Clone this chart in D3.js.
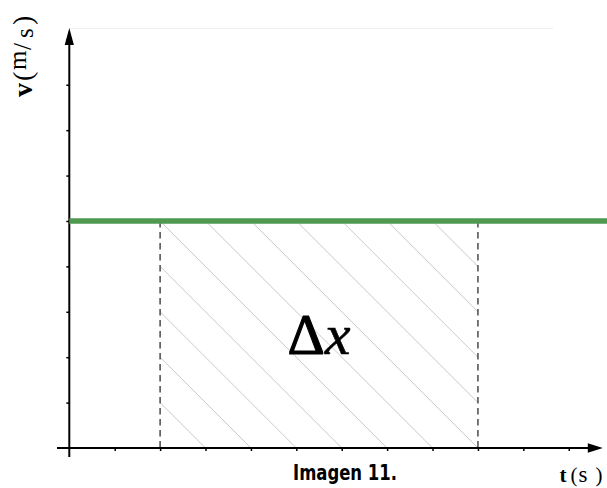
<!DOCTYPE html>
<html>
<head>
<meta charset="utf-8">
<script src="https://cdn.jsdelivr.net/npm/d3@7"></script>
<style>
  html, body { margin: 0; padding: 0; background: #fff; }
  svg { display: block; }
</style>
</head>
<body>
<script>
// Uniform motion: constant velocity, displacement = shaded area under v(t)
const tTicks = [1, 2, 3, 4, 5, 6, 7, 8, 9, 10, 11];
const vTicks = [1, 2, 3, 4, 5, 6, 7, 8, 9];
const velocity = [5];            // constant speed (m/s)
const interval = [2, 9];         // t1, t2 bounding the displacement area
const tMax = 11.75;
const vMax = 9.25;

const W = 607, H = 488;
const serif = "'Liberation Serif', 'DejaVu Serif', serif";
const svg = d3.select("body").append("svg").attr("width", W).attr("height", H);

const x = d3.scaleLinear().domain([0, tMax]).range([69.3, 602.8]);
const y = d3.scaleLinear().domain([0, vMax]).range([448, 28]);

// faint top guide
svg.append("line")
  .attr("x1", x(0)).attr("x2", 553).attr("y1", 28.5).attr("y2", 28.5)
  .attr("stroke", "#eeeeee").attr("stroke-width", 1);

// hatched area between t1 and t2
const clip = svg.append("defs").append("clipPath").attr("id", "area-clip");
clip.append("rect")
  .attr("x", x(interval[0])).attr("y", y(velocity[0]))
  .attr("width", x(interval[1]) - x(interval[0]))
  .attr("height", y(0) - y(velocity[0]));

const hatchOffsets = d3.range(interval[0] + 1, interval[1] + velocity[0] + 1);
svg.append("g").attr("clip-path", "url(#area-clip)")
  .selectAll("line").data(hatchOffsets).join("line")
  .attr("x1", k => x(k - velocity[0] - 1)).attr("y1", y(velocity[0] + 1))
  .attr("x2", k => x(k + 1)).attr("y2", y(-1))
  .attr("stroke", "#c9c9c9").attr("stroke-width", 1);

// dashed verticals at t1 and t2
svg.append("g").selectAll("line").data(interval).join("line")
  .attr("x1", d => x(d)).attr("x2", d => x(d))
  .attr("y1", y(velocity[0])).attr("y2", y(0))
  .attr("stroke", "#4a4a4a").attr("stroke-width", 1.5)
  .attr("stroke-dasharray", "6.5,4.5");

// axes ticks
svg.append("g").attr("transform", `translate(0,${y(0)})`)
  .call(d3.axisBottom(x).tickValues(tTicks).tickSize(3).tickFormat(""))
  .call(g => g.select(".domain").remove())
  .call(g => g.selectAll(".tick line").attr("stroke", "#000").attr("stroke-width", 1.5));

svg.append("g").attr("transform", `translate(${x(0)},0)`)
  .call(d3.axisLeft(y).tickValues(vTicks).tickSize(3).tickFormat(""))
  .call(g => g.select(".domain").remove())
  .call(g => g.selectAll(".tick line").attr("stroke", "#000").attr("stroke-width", 1.5));

// axis lines
svg.append("line")
  .attr("x1", 57).attr("x2", x(tMax) - 6).attr("y1", y(0)).attr("y2", y(0))
  .attr("stroke", "#000").attr("stroke-width", 2);
svg.append("line")
  .attr("x1", x(0)).attr("x2", x(0)).attr("y1", 457).attr("y2", y(vMax) + 6)
  .attr("stroke", "#000").attr("stroke-width", 2);

// arrowheads
const xt = x(tMax), yt = y(vMax);
svg.append("path")
  .attr("d", `M${xt},${y(0)} L${xt - 15},${y(0) - 4.8} L${xt - 15},${y(0) + 4.8} Z`)
  .attr("fill", "#000");
svg.append("path")
  .attr("d", `M${x(0)},${yt} L${x(0) - 4.6},${yt + 17} L${x(0) + 4.6},${yt + 17} Z`)
  .attr("fill", "#000");

// constant velocity line
svg.append("line")
  .attr("x1", x(0)).attr("x2", 607)
  .attr("y1", y(velocity[0])).attr("y2", y(velocity[0]))
  .attr("stroke", "#4f9a50").attr("stroke-width", 5.5);

// area label
const dl = svg.append("text")
  .attr("x", 319).attr("y", 354)
  .attr("text-anchor", "middle")
  .attr("font-family", serif)
  .attr("font-size", 58).attr("fill", "#000")
  .attr("stroke", "#000").attr("stroke-width", 1.1);
dl.append("tspan").text("Δ");
dl.append("tspan").attr("font-style", "italic").attr("stroke-width", 0.6).text("x");

// horizontal axis title
const tl = svg.append("text")
  .attr("y", 482)
  .attr("font-family", serif)
  .attr("font-size", 21).attr("fill", "#000");
tl.append("tspan").attr("x", 559.5).attr("font-weight", "bold").text("t");
tl.append("tspan").attr("x", 570.5).text("(");
tl.append("tspan").attr("x", 578.5).attr("font-size", 23).text("s");
tl.append("tspan").attr("x", 595.5).text(")");

// vertical axis title, skewed-fraction unit m/s
const vl = svg.append("text")
  .attr("transform", "translate(32,97) rotate(-90)")
  .attr("font-family", serif)
  .attr("font-size", 28).attr("fill", "#000");
vl.append("tspan").attr("x", 0).attr("y", 0).attr("font-weight", "bold").text("v");
vl.append("tspan").attr("x", 16).attr("y", 0).text("(");
vl.append("tspan").attr("x", 27).attr("y", -6).attr("font-size", 25).text("m");
vl.append("tspan").attr("x", 47).attr("y", -1).attr("font-size", 25).text("/");
vl.append("tspan").attr("x", 59).attr("y", 1).attr("font-size", 25).text("s");
vl.append("tspan").attr("x", 72).attr("y", 0).text(")");

// caption
svg.append("text")
  .attr("x", 293).attr("y", 480)
  .attr("textLength", 104)
  .attr("lengthAdjust", "spacingAndGlyphs")
  .attr("font-family", "'DejaVu Sans', sans-serif")
  .attr("font-weight", "bold")
  .attr("font-size", 21)
  .attr("fill", "#000")
  .text("Imagen 11.");
</script>
</body>
</html>
